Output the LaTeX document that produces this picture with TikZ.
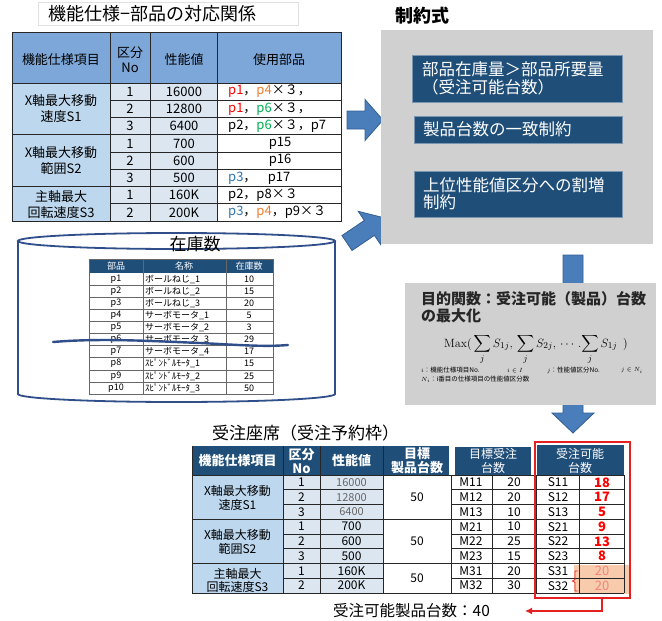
\documentclass[tikz,border=0pt]{standalone}
\usepackage[no-math]{fontspec}
\setmainfont{Noto Sans CJK JP}
\usepackage{amsmath}
\usetikzlibrary{calc,arrows.meta}
\definecolor{hdrA}{HTML}{7DA7D9}
\definecolor{lblue}{HTML}{BDD7EE}
\definecolor{lgray}{HTML}{DCE6F1}
\definecolor{dblue}{HTML}{1F4E79}
\definecolor{boxgray}{HTML}{D0D0D0}
\definecolor{arrfill}{HTML}{4A7EBB}
\definecolor{arrline}{HTML}{335E91}
\definecolor{cylline}{HTML}{2F4E8A}
\definecolor{pred}{HTML}{FF0000}
\definecolor{porange}{HTML}{ED7D31}
\definecolor{pgreen}{HTML}{00B050}
\definecolor{pblue}{HTML}{2E75B6}
\definecolor{rboxc}{HTML}{E52020}
\definecolor{peach}{HTML}{F8CBAD}
\definecolor{lred}{HTML}{F2857A}
\definecolor{gridc}{HTML}{262626}
\definecolor{txtgray}{HTML}{666666}
\newcommand\fsz[1]{\fontsize{#1}{#1}\selectfont}
\newcommand\barrow[7]{\draw[arrst, shift={(#1,#2)}, rotate=#3] (0,-#5) -- ({#4-#7},-#5) -- ({#4-#7},-#6) -- (#4,0) -- ({#4-#7},#6) -- ({#4-#7},#5) -- (0,#5) -- cycle;}
\tikzset{
  gridl/.style={draw=gridc, line width=1},
  invl/.style={draw=gridc!70, line width=0.6},
  txtA/.style={font=\fsz{13}, inner sep=0},
  txtB/.style={font=\fsz{12}, inner sep=0},
  invt/.style={font=\fsz{9}, inner sep=0},
  hdrw/.style={font=\bfseries\fsz{13}, text=white, inner sep=0, align=center},
  arrst/.style={fill=arrfill, draw=arrline, line width=0.8},
  cylst/.style={draw=cylline, line width=1.8},
  dbox/.style={fill=dblue, draw=dblue!60!white, line width=0.6, text=white, font=\fsz{16.5}, align=left, inner sep=0},
}
\begin{document}
\begin{tikzpicture}[x=1pt,y=-1pt]
\useasboundingbox (0,0) rectangle (662,621);
\fill[white] (0,0) rectangle (662,621);

% ---------- table 1 ----------
\draw[black!12] (38,2) rectangle (298,25);
\node[anchor=west, font=\fsz{18}, inner sep=0] (t1) at (48,14) {機能仕様−部品の対応関係};
\fill[hdrA] (12,32) rectangle (341,83);
\fill[lblue] (12,83) rectangle (110,221);
\fill[lgray] (110,83) rectangle (217,221);
\foreach \i in {1,...,7} \draw[gridl] (110,{83+17.25*\i}) -- (341,{83+17.25*\i});
\draw[gridl] (12,83) -- (341,83);
\draw[gridl] (12,134.75) -- (341,134.75);
\draw[gridl] (12,186.5) -- (341,186.5);
\foreach \x in {110,150,217} \draw[gridl] (\x,32) -- (\x,221);
\draw[gridl] (12,32) rectangle (341,221);
\node[txtA] (h1) at (61,60) {機能仕様項目};
\node[txtA, align=center] (h2) at (130,60) {区分\\[2pt]No};
\node[txtA] (h3) at (184,60) {性能値};
\node[txtA] (h4) at (279,60) {使用部品};
\node[txtA, align=center] (g1) at (61,109) {X軸最大移動\\[3pt]速度S1};
\node[txtA, align=center] (g2) at (61,161) {X軸最大移動\\[3pt]範囲S2};
\node[txtA, align=center] (g3) at (61,205) {主軸最大\\[3pt]回転速度S3};
\foreach \v [count=\k] in {1,2,3,1,2,3,1,2}
  \node[txtA] (n\k) at (130,{83+17.25*(\k-0.5)}) {\v};
\foreach \v [count=\k] in {16000,12800,6400,700,600,500,160K,200K}
  \node[txtA] (v\k) at (184,{83+17.25*(\k-0.5)}) {\v};
\node[txtA, anchor=west] (u1) at (228,91.6) {\textcolor{pred}{p1}，\textcolor{porange}{p4}×３，};
\node[txtA, anchor=west] (u2) at (228,108.9) {\textcolor{pred}{p1}，\textcolor{pgreen}{p6}×３，};
\node[txtA, anchor=west] (u3) at (228,126.1) {p2，\textcolor{pgreen}{p6}×３，p7};
\node[txtA] (u4) at (280,143.4) {p15};
\node[txtA] (u5) at (280,160.6) {p16};
\node[txtA, anchor=west] (u6) at (228,177.9) {\textcolor{pblue}{p3}，};
\node[txtA] (u6b) at (279,177.9) {p17};
\node[txtA, anchor=west] (u7) at (228,195.1) {p2，p8×３};
\node[txtA, anchor=west] (u8) at (228,212.4) {\textcolor{pblue}{p3}，\textcolor{porange}{p4}，p9×３};

% ---------- inventory cylinder ----------
\draw[cylst, fill=white] (18,241) -- (18,394) arc[start angle=180, end angle=0, x radius=158.5, y radius=8] -- (335,241);
\draw[cylst] (176.5,241) ellipse[x radius=158.5, y radius=8];
\node[font=\fsz{17}, inner sep=0] (inv) at (195,244) {在庫数};
\fill[dblue] (89,259) rectangle (273,273);
\foreach \k in {1,...,9} \draw[invl] (89,{273+12.1*\k}) -- (273,{273+12.1*\k});
\draw[invl] (143,259) -- (143,394);
\draw[invl] (226,259) -- (226,394);
\draw[invl] (89,259) rectangle (273,394);
\node[invt, text=white] (ih1) at (116,266) {部品};
\node[invt, text=white] (ih2) at (184,266) {名称};
\node[invt, text=white] (ih3) at (249,266) {在庫数};
\foreach \p/\n/\s [count=\k] in {p1/ボールねじ\_1/10, p2/ボールねじ\_2/15, p3/ボールねじ\_3/20, p4/サーボモータ\_1/5, p5/サーボモータ\_2/3, p6/サーボモータ\_3/29, p7/サーボモータ\_4/17, p8/ｽﾋﾟﾝﾄﾞﾙﾓｰﾀ\_1/15, p9/ｽﾋﾟﾝﾄﾞﾙﾓｰﾀ\_2/25, p10/ｽﾋﾟﾝﾄﾞﾙﾓｰﾀ\_3/50} {
  \node[invt] (ip\k) at (116,{273+12.1*(\k-0.5)}) {\p};
  \node[invt, anchor=west] (in\k) at (145,{273+12.1*(\k-0.5)}) {\n};
  \node[invt] (is\k) at (249,{273+12.1*(\k-0.5)}) {\s};
}
\draw[draw=cylline, line width=2.4, line cap=round] (53,342) .. controls (100,338) and (150,341) .. (200,343) .. controls (240,345) and (265,347) .. (288,345);

% ---------- arrows ----------
\barrow{347}{120}{0}{36}{9}{20.5}{18}
\barrow{347}{243}{34}{45}{9}{20}{18}
\barrow{573}{255}{-90}{178}{10}{21}{20}

% ---------- constraints ----------
\node[anchor=west, font=\bfseries\fsz{18}, inner sep=0] (ct) at (395,16) {制約式};
\node[fill=boxgray, minimum width=272, minimum height=214, inner sep=0] (cons) at (517,137) {};
\node[dbox, minimum width=210, minimum height=47, text width=190, font=\fontsize{16.5}{18}\selectfont] (b1) at (517,78.5) {部品在庫量＞部品所要量\\（受注可能台数）};
\node[dbox, minimum width=208, minimum height=27, text width=190] (b2) at (518,129.5) {製品台数の一致制約};
\node[dbox, minimum width=208, minimum height=46, text width=190, font=\fontsize{16.5}{17}\selectfont] (b3) at (518,194) {上位性能値区分への割増\\制約};

% ---------- objective ----------
\node[fill=boxgray, minimum width=251, minimum height=122, inner sep=0] (obj) at (530.5,344) {};
\node[anchor=west, font=\bfseries\fontsize{15}{17}\selectfont, align=left, inner sep=0, text=black!85] (objt) at (421,307.5) {目的関数：受注可能（製品）台数\\の最大化};
\node[font=\fsz{13}, inner sep=0] (fm) at (536,349.5) {$\displaystyle \mathrm{Max}(\,\sum_{j} S_{1j},\,\sum_{j} S_{2j},\,\cdots.\!\sum_{j} S_{1j}\ \ )$};
\node[anchor=west, font=\fsz{6.5}, inner sep=0] (l1) at (421,370.5) {$i$：機能仕様項目No.};
\node[anchor=west, font=\fsz{6.5}, inner sep=0] (l2) at (507,370.5) {$i\in I$};
\node[anchor=west, font=\fsz{6.5}, inner sep=0] (l3) at (547,370.5) {$j$：性能値区分No.};
\node[anchor=west, font=\fsz{6.5}, inner sep=0] (l4) at (621,370.5) {$j\in N_i$};
\node[anchor=west, font=\fsz{6.5}, inner sep=0] (l5) at (421,379.5) {$N_i$：i番目の仕様項目の性能値区分数};

% ---------- bottom table ----------
\node[anchor=west, font=\fsz{17}, inner sep=0] (t2) at (212,433) {受注座席（受注予約枠）};
\fill[dblue] (192,446) rectangle (449,475);
\fill[dblue] (455,447) rectangle (531,475);
\fill[dblue] (537,445) rectangle (624,475);
\fill[lblue] (192,475) rectangle (283,593);
\fill[lgray] (283,475) rectangle (383,593);
\fill[peach] (574,565) rectangle (629,594);
\foreach \k in {1,2,4,5,7} {
  \draw[gridl] (283,{475+14.75*\k}) -- (383,{475+14.75*\k});
  \draw[gridl] (451,{475+14.75*\k}) -- (624,{475+14.75*\k});
}
\foreach \k in {0,3,6,8} \draw[gridl] (192,{475+14.75*\k}) -- (624,{475+14.75*\k});
\foreach \x in {283,320,383} \draw[gridl] (\x,446) -- (\x,593);
\foreach \x in {451,492,536,579,624} \draw[gridl] (\x,475) -- (\x,593);
\draw[gridl] (192,446) -- (192,593);
\node[hdrw] (bh1) at (237.5,461) {機能仕様項目};
\node[hdrw] (bh2) at (301.5,461) {区分\\[1pt]No};
\node[hdrw] (bh3) at (351.5,461) {性能値};
\node[hdrw] (bh4) at (417,461) {目標\\[1pt]製品台数};
\node[hdrw, font=\fsz{12}] (bh5) at (493,461) {目標受注\\[2pt]台数};
\node[hdrw, font=\fsz{12}] (bh6) at (580,461) {受注可能\\[2pt]台数};
\node[txtB, align=center] (bg1) at (237.5,498) {X軸最大移動\\[2pt]速度S1};
\node[txtB, align=center] (bg2) at (237.5,541.5) {X軸最大移動\\[2pt]範囲S2};
\node[txtB, align=center] (bg3) at (237.5,580) {主軸最大\\[1pt]回転速度S3};
\foreach \v [count=\k] in {1,2,3,1,2,3,1,2}
  \node[txtB] (bn\k) at (301.5,{475+14.75*(\k-0.5)}) {\v};
\foreach \v [count=\k] in {16000,12800,6400}
  \node[txtB, font=\fsz{11}, text=txtgray] (bv\k) at (351.5,{475+14.75*(\k-0.5)}) {\v};
\foreach \v [count=\k from 4] in {700,600,500,160K,200K}
  \node[txtB] (bv\k) at (351.5,{475+14.75*(\k-0.5)}) {\v};
\node[txtB] (f1) at (417,497) {50};
\node[txtB] (f2) at (417,541.5) {50};
\node[txtB] (f3) at (417,578.5) {50};
\foreach \m/\a/\s/\c [count=\k] in {M11/20/S11/18, M12/20/S12/17, M13/10/S13/5, M21/10/S21/9, M22/25/S22/13, M23/15/S23/8} {
  \node[txtB] (bm\k) at (471,{475+14.75*(\k-0.5)}) {\m};
  \node[txtB] (ba\k) at (514,{475+14.75*(\k-0.5)}) {\a};
  \node[txtB] (bs\k) at (558,{475+14.75*(\k-0.5)}) {\s};
  \node[txtB, font=\bfseries\fsz{13}, text=pred] (bc\k) at (602,{475+14.75*(\k-0.5)}) {\c};
}
\foreach \m/\a/\s/\c [count=\k from 7] in {M31/20/S31/20, M32/30/S32/20} {
  \node[txtB] (bm\k) at (471,{475+14.75*(\k-0.5)}) {\m};
  \node[txtB] (ba\k) at (514,{475+14.75*(\k-0.5)}) {\a};
  \node[txtB] (bs\k) at (558,{475+14.75*(\k-0.5)}) {\s};
  \node[txtB, font=\fsz{13}, text=lred] (bc\k) at (602,{475+14.75*(\k-0.5)}) {\c};
}
\draw[rboxc, line width=0.8] (577.5,571) -- (575,571) -- (575,579.5) -- (572.5,581) -- (575,582.5) -- (575,591) -- (577.5,591);
\node[draw=rboxc, line width=1.5, minimum width=95, minimum height=156, inner sep=0] (redbox) at (582.5,520) {};
\node[anchor=west, font=\fsz{15.5}, inner sep=0] (total) at (333,611) {受注可能製品台数：40};
\coordinate (tip) at (525,611);
\draw[rboxc, line width=1.5, -{Latex[length=7,width=7]}] ([xshift=19.5pt]redbox.south) |- (tip);
\end{tikzpicture}
\end{document}
